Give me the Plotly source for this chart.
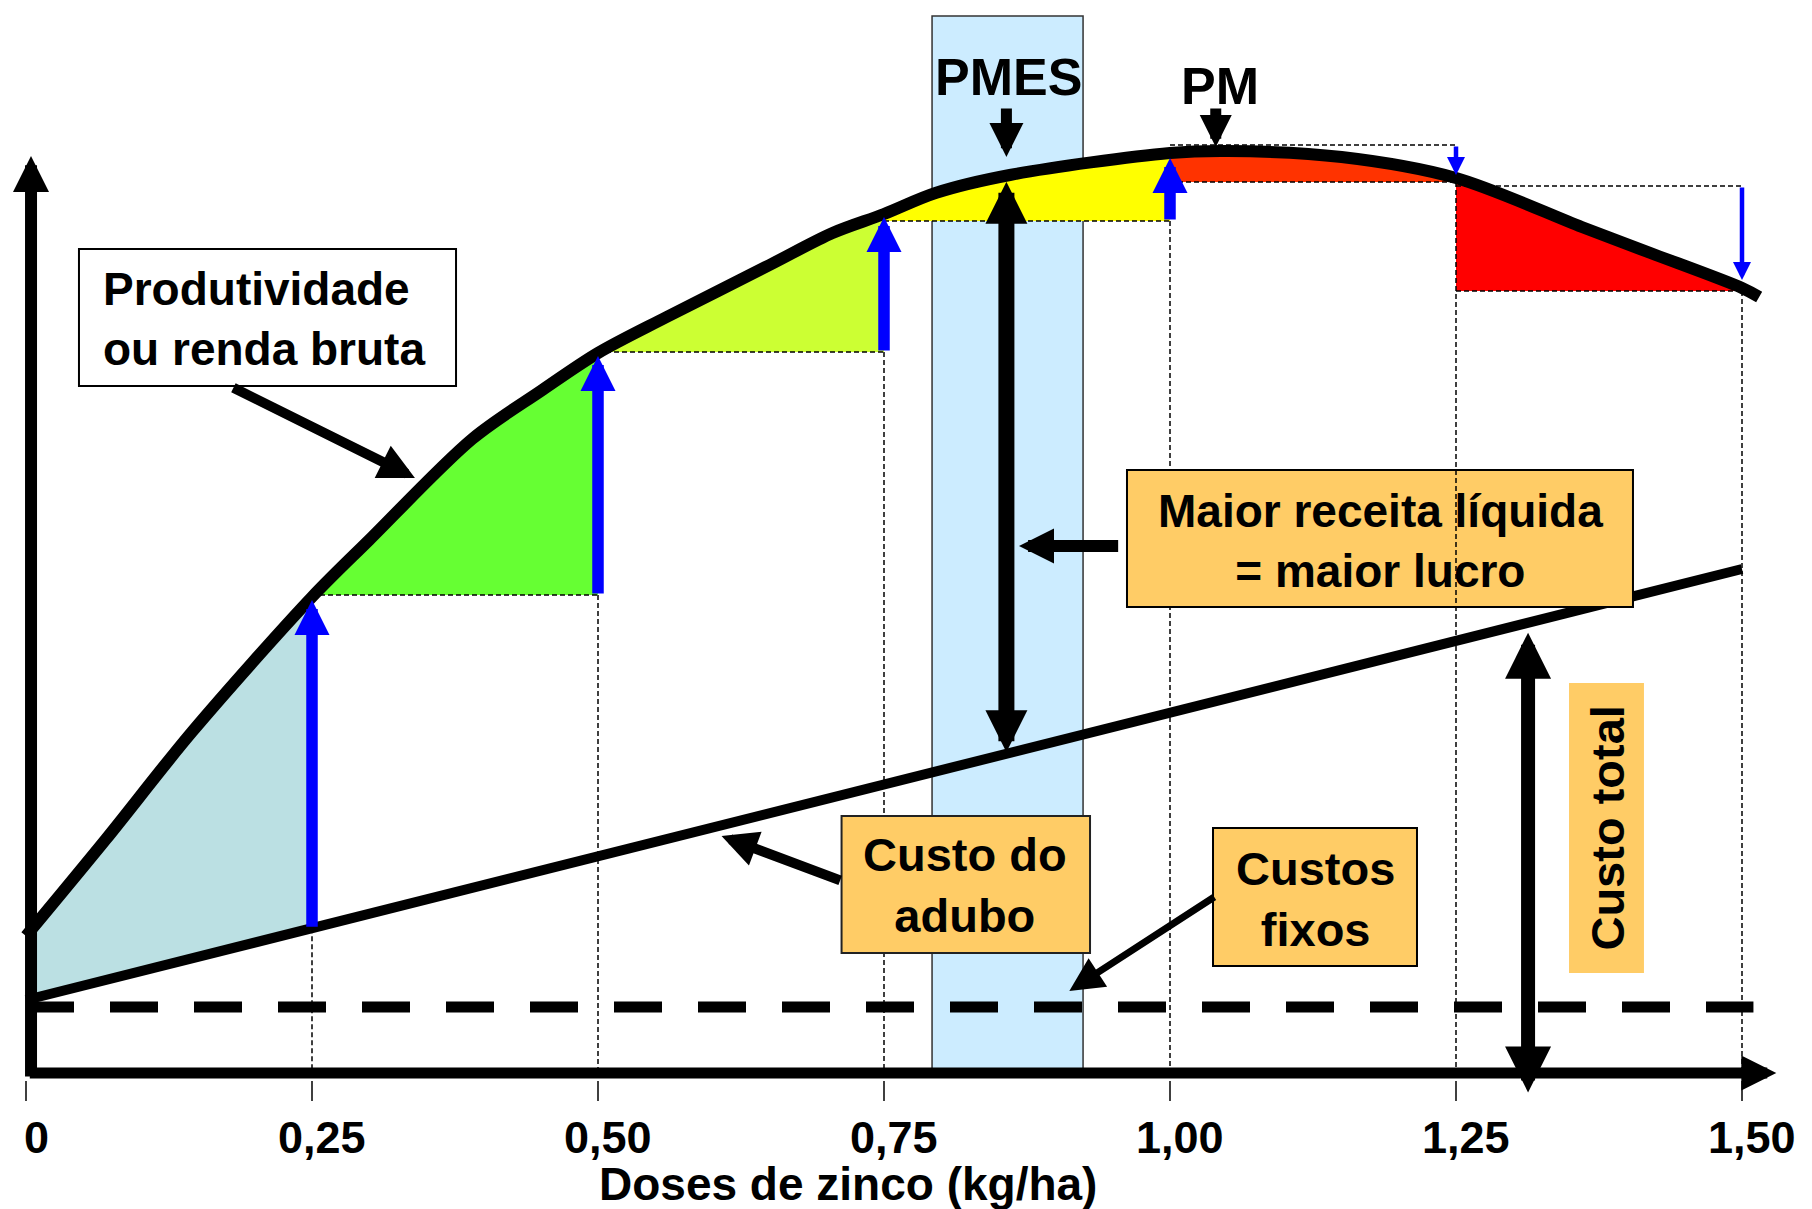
import numpy as np
import plotly.graph_objects as go

# ---------------- data ----------------
# dose of zinc (kg/ha) and gross revenue curve (arbitrary units)
dose = [0.00, 0.07, 0.145, 0.25, 0.30, 0.39, 0.45, 0.50, 0.56, 0.65,
        0.705, 0.75, 0.795, 0.86, 1.00, 1.05, 1.15, 1.25, 1.36, 1.42, 1.50, 1.515]
renda = [13.7, 23.4, 34.1, 47.6, 53.3, 63.4, 68.2, 72.0, 75.6, 80.8,
         84.0, 85.9, 88.0, 89.8, 92.0, 92.2, 91.6, 89.5, 84.6, 82.0, 78.5, 77.6]

# total cost line (fixed + fertilizer) and fixed cost
custo_dose = [0.0, 1.5]
custo_total = [7.3, 50.4]
fixo_dose = [0.0, 1.51]
custo_fixo = [6.6, 6.6]

# marked doses and the horizontal reference levels read at them
doses_marcadas = [0.25, 0.50, 0.75, 1.00, 1.25, 1.50]
nivel_base = [47.8, 72.1, 85.2, 89.1, 78.2]      # bottoms of coloured wedges
nivel_max = 92.8
nivel_125 = 88.7
fill_colors = ["#BBE0E3", "#66FF33", "#CCFF33", "#FFFF00", "#FF3300", "#FF0000"]

tick_vals = [0, 0.25, 0.50, 0.75, 1.00, 1.25, 1.50]
tick_text = ["0", "0,25", "0,50", "0,75", "1,00", "1,25", "1,50"]

pmes_band = [0.792, 0.924]
pmes_dose = 0.857
pm_dose = 1.04

FONT = "Liberation Sans, Arial, sans-serif"


def rv(x):
    return float(np.interp(x, dose, renda))


def cv(x):
    return float(np.interp(x, custo_dose, custo_total))


fig = go.Figure()

# ---------------- coloured areas ----------------
segs = [0.0] + doses_marcadas
for i in range(6):
    a, b = segs[i], segs[i + 1]
    xs = [d for d in dose if a - 1e-9 <= d <= b + 1e-9]
    ys = [renda[dose.index(d)] for d in xs]
    if i == 0:
        px = xs + [b, a]
        py = ys + [cv(b), cv(a)]
    else:
        lvl = nivel_base[i - 1]
        px = xs + [b, a]
        py = ys + [lvl, lvl]
    fig.add_trace(go.Scatter(x=px, y=py, mode="lines", fill="toself",
                             fillcolor=fill_colors[i], line=dict(width=0),
                             hoverinfo="skip", showlegend=False))

# fixed cost (dashed)
fig.add_trace(go.Scatter(x=fixo_dose, y=custo_fixo, mode="lines",
                         line=dict(color="black", width=11, dash="48px,36px"),
                         hoverinfo="skip", showlegend=False))
# total cost line
fig.add_trace(go.Scatter(x=custo_dose, y=custo_total, mode="lines",
                         line=dict(color="black", width=10),
                         hoverinfo="skip", showlegend=False))
# revenue curve
fig.add_trace(go.Scatter(x=dose, y=renda, mode="lines",
                         line=dict(color="black", width=12, shape="spline", smoothing=0.9),
                         hoverinfo="skip", showlegend=False))

# ---------------- shapes ----------------
shapes = []
# PMES band
shapes.append(dict(type="rect", xref="x", yref="y", x0=pmes_band[0], x1=pmes_band[1],
                   y0=0, y1=105.7, fillcolor="#CCECFF",
                   line=dict(color="#333333", width=1.5), layer="below"))

thin = dict(color="black", width=1.5, dash="5px,3px")
# horizontal dashed guides
h_guides = [(0.25, 0.50, nivel_base[0]), (0.50, 0.75, nivel_base[1]),
            (0.75, 1.00, nivel_base[2]), (1.00, 1.25, nivel_base[3]),
            (1.00, 1.25, nivel_max), (1.25, 1.50, nivel_125),
            (1.25, 1.50, nivel_base[4])]
for x0, x1, y in h_guides:
    shapes.append(dict(type="line", xref="x", yref="y", x0=x0, x1=x1, y0=y, y1=y,
                       line=thin, layer="above"))
# vertical dashed guides (except 1,25 drawn later, over the box)
v_tops = {0.25: cv(0.25), 0.50: nivel_base[0], 0.75: nivel_base[1],
          1.00: nivel_base[2], 1.25: nivel_base[3], 1.50: nivel_base[4]}
for d in [0.25, 0.50, 0.75, 1.00, 1.50]:
    shapes.append(dict(type="line", xref="x", yref="y", x0=d, x1=d, y0=v_tops[d], y1=0,
                       line=thin, layer="above"))
# small ticks below axis
for t in tick_vals:
    shapes.append(dict(type="line", xref="x", yref="y", x0=t, x1=t, y0=-0.8, y1=-2.8,
                       line=dict(color="black", width=1.5), layer="above"))

# boxes
box_style = dict(type="rect", xref="x", yref="y", layer="above")
shapes.append(dict(box_style, x0=0.0463, x1=0.3759, y0=68.7, y1=82.4,
                   fillcolor="white", line=dict(color="black", width=2)))
shapes.append(dict(box_style, x0=0.9624, x1=1.4047, y0=46.6, y1=60.3,
                   fillcolor="#FFCC66", line=dict(color="black", width=2)))
shapes.append(dict(box_style, x0=0.7129, x1=0.9301, y0=12.0, y1=25.7,
                   fillcolor="#FFCC66", line=dict(color="#222222", width=2)))
shapes.append(dict(box_style, x0=1.0376, x1=1.2159, y0=10.7, y1=24.5,
                   fillcolor="#FFCC66", line=dict(color="black", width=2)))
shapes.append(dict(box_style, x0=1.3488, x1=1.4143, y0=10.0, y1=39.0,
                   fillcolor="#FFCC66", line=dict(width=0)))
# 1,25 vertical guide passes over the box
shapes.append(dict(type="line", xref="x", yref="y", x0=1.25, x1=1.25, y0=v_tops[1.25], y1=0,
                   line=thin, layer="above"))

# ---------------- arrows & text ----------------
ann = []


def arrow(x0, y0, x1, y1, width, head, color="black", both=False, standoff=0, startstandoff=0):
    size = head / (5.0 * width)
    d = dict(x=x1, y=y1, ax=x0, ay=y0, xref="x", yref="y", axref="x", ayref="y",
             text="", showarrow=True, arrowhead=2, arrowsize=size, arrowwidth=width,
             arrowcolor=color, standoff=standoff)
    if both:
        d.update(arrowside="end+start", startarrowhead=2, startarrowsize=size,
                 startstandoff=startstandoff)
    ann.append(d)


# axes
arrow(0.0044, -0.5, 0.0044, 91.7, 12, 36)
arrow(0.002, 0.0, 1.530, 0.0, 11, 35)

# blue arrows going up (gain)
arrow(0.25, cv(0.25), 0.25, rv(0.25), 11.5, 35, "#0000FF", standoff=3)
arrow(0.50, nivel_base[0], 0.50, rv(0.50), 11.5, 35, "#0000FF", standoff=3)
arrow(0.75, nivel_base[1], 0.75, rv(0.75), 11.5, 35, "#0000FF", standoff=3)
arrow(1.00, nivel_base[2], 1.00, rv(1.00), 11.5, 35, "#0000FF", standoff=5)
# blue arrows going down (loss)
arrow(1.25, nivel_max, 1.25, rv(1.25), 4.5, 18, "#0000FF", standoff=3)
arrow(1.50, nivel_125, 1.50, rv(1.50), 4.5, 18, "#0000FF", standoff=8)

# PMES / PM pointers
arrow(pmes_dose, 96.6, pmes_dose, 91.6, 11, 34)
arrow(pm_dose, 96.6, pm_dose, 92.6, 11, 32)
# big double arrow = maior lucro
arrow(pmes_dose, cv(pmes_dose), pmes_dose, rv(pmes_dose), 16, 42, both=True,
      standoff=6, startstandoff=0)
# custo total double arrow
arrow(1.313, -2.1, 1.313, cv(1.313), 14, 46, both=True, standoff=10)
# label pointers
arrow(0.956, 52.7, 0.868, 52.7, 12, 35)
arrow(0.713, 19.2, 0.608, 23.7, 10, 36)
arrow(1.040, 17.7, 0.912, 8.2, 7, 34)
arrow(0.180, 68.6, 0.340, 59.5, 10, 36)


def label(x, y, text, size=46, angle=0, xanchor="center", align="center"):
    ann.append(dict(x=x, y=y, xref="x", yref="y", text=text, showarrow=False,
                    textangle=angle, xanchor=xanchor, yanchor="middle", align=align,
                    font=dict(family=FONT, size=size, color="black", weight="bold")))


label(0.0656, 75.4, "Produtividade<br>ou renda bruta", xanchor="left", align="left")
label(1.1836, 53.2, "Maior receita líquida<br>= maior lucro")
label(0.8212, 18.8, "Custo do<br>adubo", size=47)
label(1.1268, 17.4, "Custos<br>fixos", size=47)
label(1.3816, 24.5, "Custo total", size=47, angle=-90)
label(0.8584, 99.6, "PMES", size=52)
label(1.0437, 98.7, "PM", size=52)
for t, s in zip(tick_vals, tick_text):
    ann.append(dict(x=t, y=-6.4, xref="x", yref="y", text=s, showarrow=False,
                    xshift=10, yanchor="middle",
                    font=dict(family=FONT, size=45, color="black", weight="bold")))
label(0.7185, -11.1, "Doses de zinco (kg/ha)", size=46)

fig.update_layout(
    width=1812, height=1209, autosize=False,
    margin=dict(l=0, r=0, t=0, b=0, pad=0),
    paper_bgcolor="white", plot_bgcolor="white",
    shapes=shapes, annotations=ann, showlegend=False,
    xaxis=dict(range=[-26 / 1144, 1786 / 1144], visible=False, fixedrange=True),
    yaxis=dict(range=[-13.6, 107.3], visible=False, fixedrange=True),
)

fig.write_html("out.html")
